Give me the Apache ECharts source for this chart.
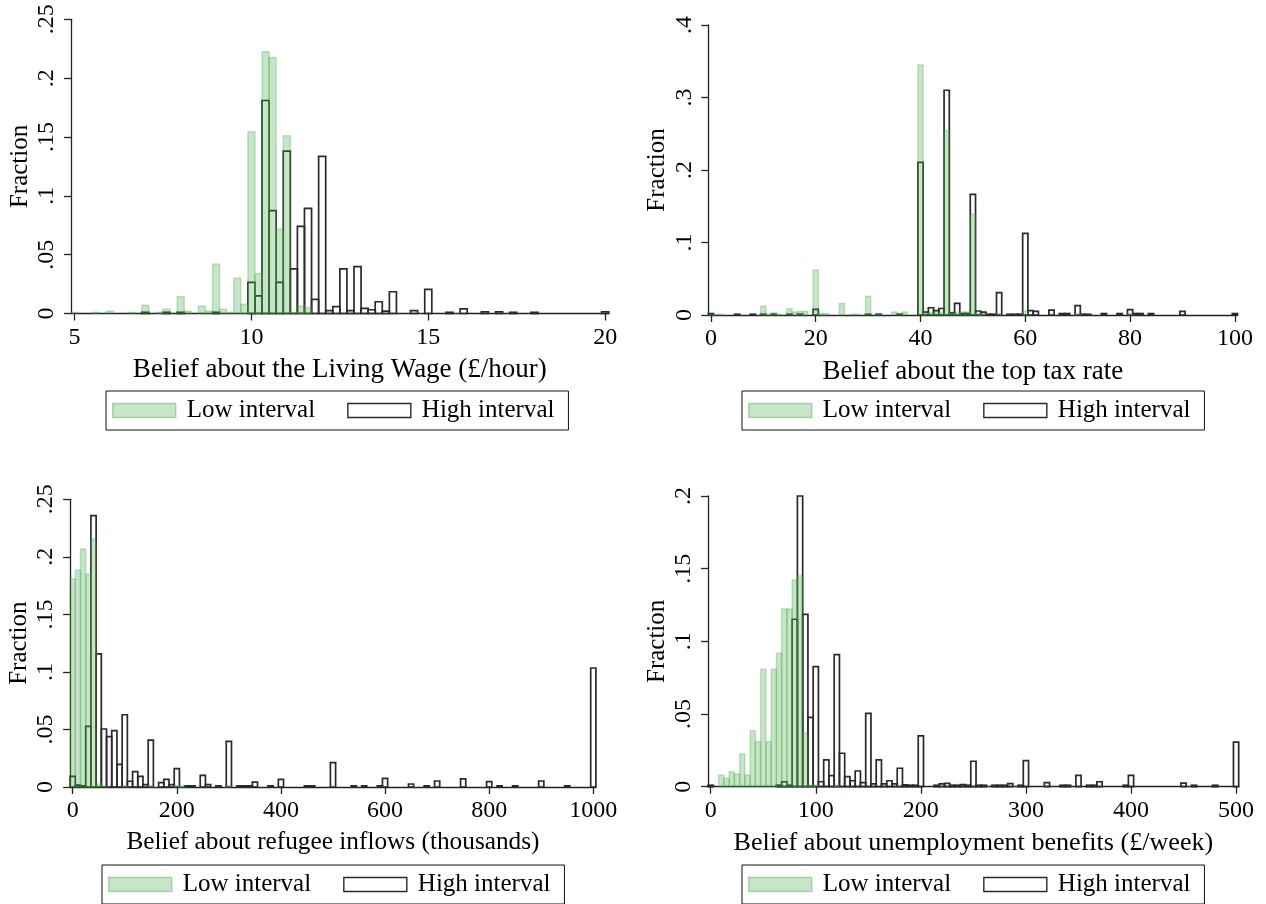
<!DOCTYPE html>
<html><head><meta charset="utf-8">
<script src="https://cdn.jsdelivr.net/npm/echarts@6/dist/echarts.min.js"></script>
<style>html,body{margin:0;padding:0;background:#fff}#c{width:1266px;height:904px}</style>
</head><body><div id="c"></div>
<script>
// ---- Panel 1: Living Wage (bin width 0.2) ----
const wageLowX  = [5.0,5.6,6.0,6.6,7.0,7.4,7.6,8.0,8.2,8.6,8.8,9.0,9.2,9.4,9.6,9.8,10.0,10.2,10.4,10.6,10.8,11.0,11.2,11.4,11.6];
const wageLowY  = [0.001,0.001,0.002,0.001,0.007,0.001,0.0036,0.0143,0.002,0.0064,0.002,0.042,0.0036,0.001,0.030,0.0078,0.1545,0.034,0.2225,0.2176,0.0715,0.151,0.001,0.0064,0.005];
const wageHighX = [7.0,7.6,8.0,9.0,10.0,10.2,10.4,10.6,10.8,11.0,11.2,11.4,11.6,11.8,12.0,12.2,12.4,12.6,12.8,13.0,13.2,13.4,13.6,13.8,14.0,14.6,15.0,15.6,16.0,16.6,17.0,17.4,18.0,20.0];
const wageHighY = [0.001,0.001,0.001,0.001,0.0265,0.0149,0.181,0.0874,0.0265,0.138,0.038,0.074,0.0894,0.012,0.1335,0.0024,0.0058,0.038,0.0024,0.0398,0.0044,0.0032,0.010,0.002,0.0185,0.0024,0.0205,0.001,0.004,0.0015,0.0015,0.001,0.001,0.0015];
const wageXTicks = [5,10,15,20];
const wageXLabels = ['5','10','15','20'];
const wageYTicks = [0,0.05,0.1,0.15,0.2,0.25];
const wageYLabels = ['0','.05','.1','.15','.2','.25'];

// ---- Panel 2: top tax rate (bin width 1) ----
const taxLowX  = [0,1,2,10,11,12,13,15,16,17,18,20,21,22,25,27,28,30,32,35,36,37,40,41,42,43,44,45,46,47,48,49,50,51,52,55,60,70,80];
const taxLowY  = [0.001,0.001,0.001,0.0124,0.001,0.003,0.001,0.0087,0.004,0.005,0.005,0.062,0.002,0.002,0.016,0.001,0.001,0.026,0.002,0.004,0.002,0.004,0.345,0.003,0.003,0.003,0.004,0.254,0.004,0.004,0.004,0.004,0.139,0.002,0.002,0.002,0.006,0.001,0.002];
const taxHighX = [0,5,8,10,12,15,17,20,30,32,36,40,41,42,43,44,45,46,47,48,49,50,51,52,53,54,55,57,58,59,60,61,62,65,67,68,70,71,72,75,78,80,81,82,84,90,100];
const taxHighY = [0.002,0.001,0.001,0.001,0.001,0.001,0.001,0.0078,0.001,0.001,0.001,0.2106,0.004,0.010,0.006,0.009,0.310,0.003,0.016,0.002,0.002,0.1665,0.0055,0.004,0.001,0.001,0.0308,0.001,0.001,0.001,0.1126,0.006,0.005,0.0067,0.002,0.002,0.013,0.001,0.001,0.002,0.002,0.0074,0.002,0.002,0.002,0.005,0.002];
const taxXTicks = [0,20,40,60,80,100];
const taxXLabels = ['0','20','40','60','80','100'];
const taxYTicks = [0,0.1,0.2,0.3,0.4];
const taxYLabels = ['0','.1','.2','.3','.4'];

// ---- Panel 3: refugee inflows (bin width 10) ----
const refLowX  = [0,10,20,30,40,50,60,100,150,200,210,300];
const refLowY  = [0.1807,0.1886,0.2068,0.1848,0.2155,0.0025,0.001,0.001,0.001,0.001,0.001,0.001];
const refHighX = [0,10,20,30,40,50,60,70,80,90,100,110,120,130,140,150,170,180,190,200,220,230,250,260,280,300,320,330,340,350,380,400,450,460,500,540,560,590,600,650,680,700,750,800,820,850,900,950,1000];
const refHighY = [0.0093,0.0017,0.001,0.0527,0.2358,0.1156,0.0504,0.0437,0.049,0.0197,0.0628,0.005,0.0133,0.0093,0.002,0.0408,0.0038,0.0067,0.002,0.016,0.001,0.001,0.0101,0.002,0.001,0.0397,0.001,0.001,0.001,0.0043,0.001,0.0067,0.001,0.001,0.0212,0.001,0.001,0.001,0.0075,0.0026,0.001,0.0052,0.007,0.0046,0.001,0.001,0.0052,0.001,0.1034];
const refXTicks = [0,200,400,600,800,1000];
const refXLabels = ['0','200','400','600','800','1000'];
const refYTicks = [0,0.05,0.1,0.15,0.2,0.25];
const refYLabels = ['0','.05','.1','.15','.2','.25'];

// ---- Panel 4: unemployment benefits (bin width 5) ----
const benLowX  = [10,15,20,25,30,35,40,45,50,55,60,65,70,75,80,85,90,95,100,120];
const benLowY  = [0.008,0.0058,0.0103,0.0087,0.0225,0.008,0.0385,0.031,0.0808,0.031,0.0808,0.0918,0.1222,0.1222,0.1422,0.1452,0.0367,0.001,0.001,0.001];
const benHighX = [0,65,70,75,80,85,90,95,100,105,110,115,120,125,130,135,140,145,150,155,160,165,170,175,180,185,190,195,200,215,220,225,230,235,240,245,250,255,260,270,275,280,285,295,300,320,335,340,350,360,365,370,395,400,450,460,480,500];
const benHighY = [0.001,0.001,0.0034,0.001,0.1152,0.200,0.1186,0.0477,0.0826,0.0034,0.0184,0.0076,0.0908,0.023,0.0069,0.0041,0.0108,0.0028,0.0505,0.002,0.0184,0.002,0.0041,0.002,0.0127,0.0013,0.001,0.001,0.0349,0.001,0.002,0.0023,0.001,0.001,0.0014,0.001,0.0175,0.001,0.001,0.001,0.001,0.001,0.0021,0.001,0.018,0.0028,0.001,0.001,0.0078,0.001,0.001,0.0034,0.001,0.0078,0.0025,0.001,0.001,0.0306];
const benXTicks = [0,100,200,300,400,500];
const benXLabels = ['0','100','200','300','400','500'];
const benYTicks = [0,0.05,0.1,0.15,0.2];
const benYLabels = ['0','.05','.1','.15','.2'];

const FONT = '"Liberation Serif", "DejaVu Serif", serif';
const LOW_C = 'rgba(60,160,60,0.28)';
const HIGH_LINE = '#2a2a2a';
const AXC = '#222';

const panels = [
  {grid:{left:71, top:19.3, width:537.7, height:294.2}, xmin:4.9, xmax:20.1, ymax:0.25, w:0.2,
   lowX:wageLowX, lowY:wageLowY, highX:wageHighX, highY:wageHighY,
   xt:wageXTicks, xl:wageXLabels, yt:wageYTicks, yl:wageYLabels, tfs:27,
   title:'Belief about the Living Wage (£/hour)', legend:{left:106, top:391}},
  {grid:{left:708.3, top:25, width:529.2, height:290}, xmin:-0.5, xmax:100.5, ymax:0.4, w:1,
   lowX:taxLowX, lowY:taxLowY, highX:taxHighX, highY:taxHighY,
   xt:taxXTicks, xl:taxXLabels, yt:taxYTicks, yl:taxYLabels, tfs:27,
   title:'Belief about the top tax rate', legend:{left:742, top:391}},
  {grid:{left:70.1, top:499.3, width:525.8, height:287.7}, xmin:-5, xmax:1005, ymax:0.25, w:10,
   lowX:refLowX, lowY:refLowY, highX:refHighX, highY:refHighY,
   xt:refXTicks, xl:refXLabels, yt:refYTicks, yl:refYLabels, tfs:25.3,
   title:'Belief about refugee inflows (thousands)', legend:{left:102, top:865}},
  {grid:{left:708.1, top:496, width:530.6, height:290.7}, xmin:-2.5, xmax:502.5, ymax:0.2, w:5,
   lowX:benLowX, lowY:benLowY, highX:benHighX, highY:benHighY,
   xt:benXTicks, xl:benXLabels, yt:benYTicks, yl:benYLabels, tfs:26.1,
   title:'Belief about unemployment benefits (£/week)', legend:{left:742, top:865}}
];

function barSeries(name, i, xs, ys, w, low) {
  return {
    type:'custom', name:name, xAxisIndex:i, yAxisIndex:i,
    data: xs.map((x,k)=>[x, ys[k]]),
    z: low ? 3 : 2, silent:true, animation:false, clip:false,
    itemStyle: low ? {color:LOW_C, borderColor:LOW_C} : {color:'#fff', borderColor:HIGH_LINE},
    renderItem: function(params, api) {
      const x = api.value(0), y = api.value(1);
      const p0 = api.coord([x - w/2, y]);
      const p1 = api.coord([x + w/2, 0]);
      return {type:'rect',
        shape:{x:p0[0], y:p0[1], width:p1[0]-p0[0], height:p1[1]-p0[1]},
        style: low ? {fill:LOW_C, stroke:LOW_C, lineWidth:1.5}
                   : {fill:'rgba(255,255,255,0)', stroke:HIGH_LINE, lineWidth:1.7}};
    }
  };
}

const option = {
  backgroundColor:'#fff', animation:false,
  grid: panels.map(p=>Object.assign({containLabel:false}, p.grid)),
  xAxis: panels.map((p,i)=>({
    gridIndex:i, type:'value', min:p.xmin, max:p.xmax,
    name:p.title, nameLocation:'middle', nameGap:43,
    nameTextStyle:{fontFamily:FONT, fontSize:p.tfs, color:'#000'},
    axisLine:{show:true, onZero:false, lineStyle:{color:AXC, width:1.3}},
    axisTick:{show:true, inside:false, length:7, customValues:p.xt, lineStyle:{color:AXC, width:1.3}},
    axisLabel:{show:true, customValues:p.xt, formatter:v=>p.xl[p.xt.indexOf(v)],
      fontFamily:FONT, fontSize:24, color:'#000', margin:12},
    splitLine:{show:false}
  })),
  yAxis: panels.map((p,i)=>({
    gridIndex:i, type:'value', min:0, max:p.ymax,
    name:'Fraction', nameLocation:'middle', nameGap:38,
    nameTextStyle:{fontFamily:FONT, fontSize:25, color:'#000'},
    axisLine:{show:true, onZero:false, lineStyle:{color:AXC, width:1.3}},
    axisTick:{show:true, inside:false, length:7, customValues:p.yt, lineStyle:{color:AXC, width:1.3}},
    axisLabel:{show:true, customValues:p.yt, formatter:v=>p.yl[p.yt.indexOf(v)], rotate:90,
      fontFamily:FONT, fontSize:24, color:'#000', margin:12},
    splitLine:{show:false}
  })),
  legend: panels.map(p=>({
    left:p.legend.left, top:p.legend.top, orient:'horizontal',
    padding:[7,14,7,6], itemGap:32, itemWidth:63, itemHeight:14, icon:'rect',
    borderColor:'#111', borderWidth:1, backgroundColor:'#fff',
    selectedMode:false,
    textStyle:{fontFamily:FONT, fontSize:25, color:'#000', padding:[0,0,0,6]},
    data:[
      {name:'Low interval', icon:'rect', itemStyle:{color:LOW_C, borderColor:'rgba(60,160,60,0.4)', borderWidth:1.4}},
      {name:'High interval', icon:'rect', itemStyle:{color:'#fff', borderColor:HIGH_LINE, borderWidth:1.4}}
    ]
  })),
  series: [].concat(...panels.map((p,i)=>[
    barSeries('High interval', i, p.highX, p.highY, p.w, false),
    barSeries('Low interval', i, p.lowX, p.lowY, p.w, true)
  ]))
};
const chart = echarts.init(document.getElementById('c'), null, {renderer:'canvas'});
chart.setOption(option);
</script>
</body></html>
